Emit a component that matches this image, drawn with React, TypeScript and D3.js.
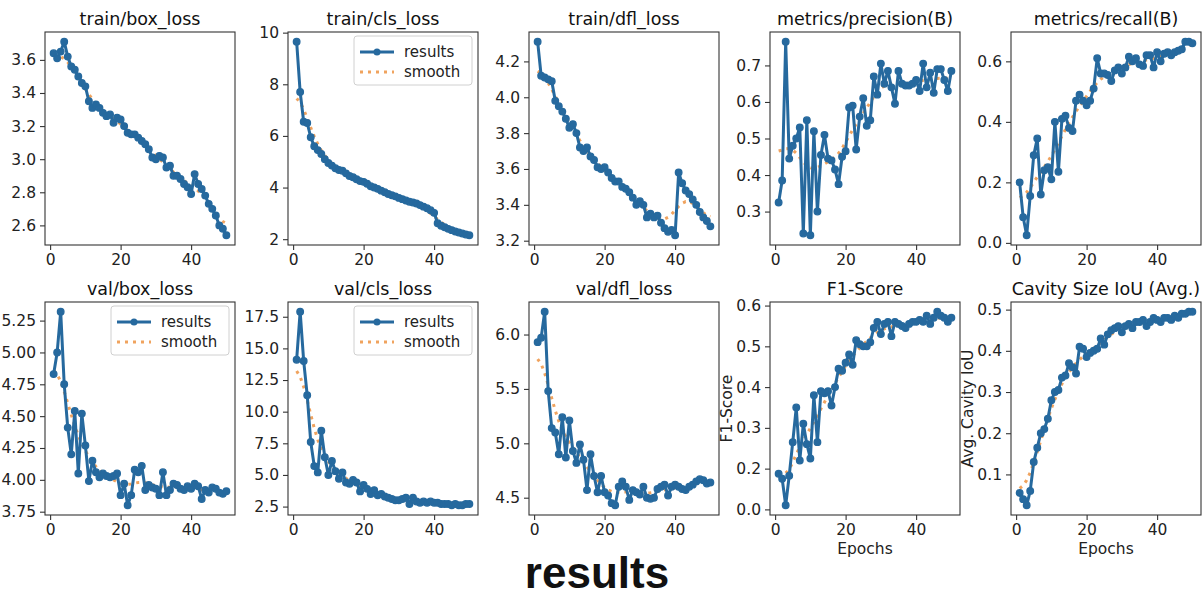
import { useEffect, useRef } from 'react';
import * as d3 from 'd3';

// x axis: training epochs
const epochs = d3.range(1, 51);

const trainBoxLoss = [
  3.64, 3.61, 3.65, 3.71, 3.62, 3.56, 3.54, 3.50, 3.46, 3.44,
  3.35, 3.31, 3.33, 3.31, 3.28, 3.26, 3.27, 3.22, 3.25, 3.24,
  3.20, 3.16, 3.15, 3.15, 3.13, 3.11, 3.09, 3.06, 3.01, 3.00,
  3.02, 3.01, 2.95, 2.96, 2.90, 2.90, 2.88, 2.85, 2.83, 2.79,
  2.91, 2.85, 2.82, 2.78, 2.73, 2.70, 2.66, 2.60, 2.58, 2.54,
];
const trainClsLoss = [
  9.65, 7.70, 6.55, 6.50, 5.95, 5.60, 5.45, 5.30, 5.10, 4.95,
  4.85, 4.75, 4.68, 4.65, 4.55, 4.45, 4.40, 4.32, 4.25, 4.22,
  4.15, 4.05, 4.00, 3.95, 3.88, 3.82, 3.75, 3.70, 3.66, 3.60,
  3.55, 3.50, 3.45, 3.42, 3.38, 3.32, 3.26, 3.20, 3.12, 3.02,
  2.62, 2.52, 2.46, 2.40, 2.35, 2.30, 2.26, 2.22, 2.18, 2.15,
];
const trainDflLoss = [
  4.31, 4.12, 4.11, 4.10, 4.09, 3.98, 3.95, 3.92, 3.88, 3.83,
  3.85, 3.80, 3.72, 3.70, 3.72, 3.67, 3.65, 3.61, 3.60, 3.61,
  3.58, 3.55, 3.53, 3.53, 3.50, 3.49, 3.47, 3.44, 3.40, 3.42,
  3.40, 3.33, 3.35, 3.33, 3.34, 3.30, 3.27, 3.25, 3.26, 3.23,
  3.58, 3.52, 3.48, 3.46, 3.43, 3.40, 3.36, 3.33, 3.31, 3.28,
];
const precisionB = [
  0.325, 0.385, 0.765, 0.445, 0.48, 0.50, 0.53, 0.24, 0.55, 0.235,
  0.52, 0.30, 0.455, 0.51, 0.445, 0.44, 0.415, 0.375, 0.45, 0.465,
  0.585, 0.59, 0.47, 0.56, 0.61, 0.535, 0.55, 0.67, 0.62, 0.705,
  0.65, 0.685, 0.64, 0.595, 0.685, 0.65, 0.645, 0.645, 0.65, 0.66,
  0.63, 0.705, 0.64, 0.68, 0.625, 0.69, 0.69, 0.66, 0.63, 0.685,
];
const recallB = [
  0.20, 0.085, 0.025, 0.155, 0.29, 0.345, 0.16, 0.24, 0.25, 0.21,
  0.40, 0.235, 0.41, 0.42, 0.38, 0.37, 0.47, 0.49, 0.47, 0.455,
  0.47, 0.51, 0.61, 0.56, 0.56, 0.555, 0.535, 0.57, 0.58, 0.56,
  0.58, 0.615, 0.60, 0.61, 0.59, 0.585, 0.62, 0.62, 0.58, 0.63,
  0.60, 0.625, 0.63, 0.62, 0.63, 0.635, 0.64, 0.665, 0.665, 0.66,
];
const valBoxLoss = [
  4.83, 5.00, 5.32, 4.75, 4.41, 4.20, 4.54, 4.05, 4.52, 4.27,
  3.99, 4.15, 4.06, 4.02, 4.05, 4.03, 4.02, 4.03, 4.05, 3.88,
  3.97, 3.80, 3.88, 4.08, 4.06, 4.11, 3.92, 3.96, 3.94, 3.93,
  3.88, 4.06, 3.88, 3.92, 3.97, 3.96, 3.93, 3.92, 3.95, 3.93,
  3.97, 3.95, 3.85, 3.92, 3.90, 3.94, 3.93, 3.90, 3.89, 3.91,
];
const valClsLoss = [
  14.1, 17.9, 14.0, 11.3, 7.6, 5.7, 5.2, 8.5, 6.4, 5.0,
  6.1, 5.3, 4.7, 5.2, 4.4, 4.3, 4.6, 4.4, 3.7, 4.2,
  3.9, 3.5, 3.8, 3.4, 3.5, 3.3, 3.2, 3.1, 3.0, 3.0,
  3.1, 3.2, 2.7, 3.2, 2.9, 2.8, 2.9, 2.8, 2.9, 2.8,
  2.8, 2.7, 2.7, 2.7, 2.6, 2.7, 2.6, 2.6, 2.7, 2.7,
];
const valDflLoss = [
  5.93, 5.97, 6.21, 5.48, 5.14, 5.10, 4.90, 5.24, 4.87, 5.21,
  4.93, 4.82, 4.99, 4.85, 4.57, 4.90, 4.70, 4.55, 4.70, 4.55,
  4.52, 4.45, 4.43, 4.60, 4.65, 4.60, 4.48, 4.57, 4.55, 4.53,
  4.60, 4.50, 4.49, 4.50, 4.58, 4.60, 4.62, 4.52, 4.60, 4.62,
  4.60, 4.58, 4.57, 4.60, 4.62, 4.65, 4.67, 4.66, 4.63, 4.64,
];
const f1Score = [
  0.175, 0.15, 0.02, 0.165, 0.265, 0.35, 0.22, 0.31, 0.26, 0.225,
  0.38, 0.265, 0.39, 0.385, 0.39, 0.355, 0.40, 0.445, 0.44, 0.46,
  0.48, 0.455, 0.515, 0.505, 0.50, 0.50, 0.51, 0.545, 0.56, 0.53,
  0.555, 0.56, 0.525, 0.56, 0.555, 0.55, 0.545, 0.555, 0.56, 0.56,
  0.565, 0.56, 0.575, 0.555, 0.57, 0.585, 0.575, 0.57, 0.56, 0.57,
];
const cavityIoU = [
  0.055, 0.04, 0.025, 0.06, 0.13, 0.165, 0.20, 0.21, 0.235, 0.28,
  0.30, 0.305, 0.335, 0.34, 0.37, 0.36, 0.345, 0.41, 0.405, 0.385,
  0.395, 0.40, 0.405, 0.43, 0.415, 0.44, 0.45, 0.455, 0.46, 0.445,
  0.46, 0.465, 0.455, 0.47, 0.47, 0.475, 0.46, 0.47, 0.48, 0.475,
  0.47, 0.48, 0.48, 0.475, 0.485, 0.48, 0.49, 0.49, 0.495, 0.495,
];

// tick values
const xTicks = [0, 20, 40];
const trainBoxTicks = [2.6, 2.8, 3.0, 3.2, 3.4, 3.6];
const trainClsTicks = [2, 4, 6, 8, 10];
const trainDflTicks = [3.2, 3.4, 3.6, 3.8, 4.0, 4.2];
const precisionTicks = [0.3, 0.4, 0.5, 0.6, 0.7];
const recallTicks = [0.0, 0.2, 0.4, 0.6];
const valBoxTicks = [3.75, 4.0, 4.25, 4.5, 4.75, 5.0, 5.25];
const valClsTicks = [2.5, 5.0, 7.5, 10.0, 12.5, 15.0, 17.5];
const valDflTicks = [4.5, 5.0, 5.5, 6.0];
// the F1 axis skips 0.1: 0.0 -> 0.2 takes one tick step
const f1Ticks = [0.0, 0.2, 0.3, 0.4, 0.5, 0.6];
const iouTicks = [0.1, 0.2, 0.3, 0.4, 0.5];

type Panel = {
  title: string;
  values: number[];
  ticks: number[];
  fmt: string;
  legend?: boolean;
  xLabel?: string;
  yLabel?: string;
  skipScale?: boolean;
};

const panels: Panel[] = [
  { title: 'train/box_loss', values: trainBoxLoss, ticks: trainBoxTicks, fmt: '.1f' },
  { title: 'train/cls_loss', values: trainClsLoss, ticks: trainClsTicks, fmt: 'd', legend: true },
  { title: 'train/dfl_loss', values: trainDflLoss, ticks: trainDflTicks, fmt: '.1f' },
  { title: 'metrics/precision(B)', values: precisionB, ticks: precisionTicks, fmt: '.1f' },
  { title: 'metrics/recall(B)', values: recallB, ticks: recallTicks, fmt: '.1f' },
  { title: 'val/box_loss', values: valBoxLoss, ticks: valBoxTicks, fmt: '.2f', legend: true },
  { title: 'val/cls_loss', values: valClsLoss, ticks: valClsTicks, fmt: '.1f', legend: true },
  { title: 'val/dfl_loss', values: valDflLoss, ticks: valDflTicks, fmt: '.1f' },
  { title: 'F1-Score', values: f1Score, ticks: f1Ticks, fmt: '.1f', xLabel: 'Epochs', yLabel: 'F1-Score', skipScale: true },
  { title: 'Cavity Size IoU (Avg.)', values: cavityIoU, ticks: iouTicks, fmt: '.1f', xLabel: 'Epochs', yLabel: 'Avg. Cavity IoU' },
];

const WIDTH = 1202;
const HEIGHT = 597;
const colX = [45, 288, 529, 770, 1011];
const rowY = [32, 302];
const PW = 190;
const PH = 213;

const BLUE = '#26699e';
const ORANGE = '#f0a35e';
const FONT = '"DejaVu Sans", sans-serif';

// same as scipy gaussian_filter1d(y, sigma=3) with reflect edges
const gaussianSmooth = (y: number[], sigma = 3) => {
  const radius = Math.round(4 * sigma);
  const w = d3.range(-radius, radius + 1).map(k => Math.exp(-0.5 * (k / sigma) ** 2));
  const wsum = d3.sum(w);
  const n = y.length;
  const reflect = (i: number) => {
    while (i < 0 || i >= n) {
      if (i < 0) i = -i - 1;
      if (i >= n) i = 2 * n - i - 1;
    }
    return i;
  };
  return y.map((_, i) => d3.sum(w, (wk, j) => wk * y[reflect(i + j - radius)]) / wsum);
};

const App = () => {
  const svgRef = useRef<SVGSVGElement>(null);

  useEffect(() => {
    const svg = d3.select(svgRef.current);
    svg.selectAll('*').remove();

    svg.append('rect').attr('width', WIDTH).attr('height', HEIGHT).attr('fill', '#fff');

    panels.forEach((p, i) => {
      const g = svg
        .append('g')
        .attr('transform', `translate(${colX[i % 5]},${rowY[Math.floor(i / 5)]})`);

      const smooth = gaussianSmooth(p.values);

      // x scale with matplotlib's 5% margins
      const [e0, e1] = d3.extent(epochs) as [number, number];
      const em = (e1 - e0) * 0.05;
      const x = d3.scaleLinear().domain([e0 - em, e1 + em]).range([0, PW]);

      const all = p.values.concat(smooth);
      let y: d3.ScaleLinear<number, number>;
      if (p.skipScale) {
        // piecewise: one tick step for 0.0..0.2, then 0.1 per step
        const toSteps = (v: number) => (v <= 0.2 ? v / 0.2 : 1 + (v - 0.2) / 0.1);
        const fromSteps = (s: number) => (s <= 1 ? s * 0.2 : 0.2 + (s - 1) * 0.1);
        const s0 = d3.min(all, toSteps) as number;
        const s1 = d3.max(all, toSteps) as number;
        const sm = (s1 - s0) * 0.05;
        const ys = d3.scaleLinear().domain([s0 - sm, s1 + sm]).range([PH, 0]);
        y = d3
          .scaleLinear()
          .domain([fromSteps(s0 - sm), 0.2, fromSteps(s1 + sm)])
          .range([PH, ys(1), 0]);
      } else {
        const [lo, hi] = d3.extent(all) as [number, number];
        const m = (hi - lo) * 0.05;
        y = d3.scaleLinear().domain([lo - m, hi + m]).range([PH, 0]);
      }

      // smooth (dotted) under the results line
      const line = d3
        .line<number>()
        .x((_, j) => x(epochs[j]))
        .y(d => y(d));

      g.append('path')
        .datum(smooth)
        .attr('fill', 'none')
        .attr('stroke', ORANGE)
        .attr('stroke-width', 3)
        .attr('stroke-dasharray', '3,5')
        .attr('d', line);

      g.append('path')
        .datum(p.values)
        .attr('fill', 'none')
        .attr('stroke', BLUE)
        .attr('stroke-width', 3)
        .attr('stroke-linejoin', 'round')
        .attr('d', line);

      g.selectAll('.dot')
        .data(p.values)
        .enter()
        .append('circle')
        .attr('cx', (_, j) => x(epochs[j]))
        .attr('cy', d => y(d))
        .attr('r', 3.3)
        .attr('fill', BLUE)
        .attr('stroke', BLUE)
        .attr('stroke-width', 1.3);

      // axes
      const xAxis = g
        .append('g')
        .attr('transform', `translate(0,${PH})`)
        .call(d3.axisBottom(x).tickValues(xTicks).tickSize(5).tickPadding(4).tickFormat(d3.format('d')));
      const yAxis = g
        .append('g')
        .call(d3.axisLeft(y).tickValues(p.ticks).tickSize(5).tickPadding(4).tickFormat(d3.format(p.fmt)));

      [xAxis, yAxis].forEach(ax => {
        ax.attr('font-size', 15.5).attr('font-family', FONT);
        ax.select('.domain').remove();
        ax.selectAll('.tick line').attr('stroke', '#333').attr('stroke-width', 1.1);
        ax.selectAll('.tick text').attr('fill', '#222');
      });

      // frame
      g.append('rect')
        .attr('width', PW)
        .attr('height', PH)
        .attr('fill', 'none')
        .attr('stroke', '#333')
        .attr('stroke-width', 1.1);

      g.append('text')
        .attr('x', PW / 2)
        .attr('y', -7)
        .attr('text-anchor', 'middle')
        .attr('font-family', FONT)
        .attr('font-size', 17.5)
        .attr('fill', '#111')
        .text(p.title);

      if (p.xLabel) {
        g.append('text')
          .attr('x', PW / 2)
          .attr('y', PH + 39)
          .attr('text-anchor', 'middle')
          .attr('font-family', FONT)
          .attr('font-size', 15.5)
          .attr('fill', '#222')
          .text(p.xLabel);
      }
      if (p.yLabel) {
        g.append('text')
          .attr('transform', `translate(-43,${PH / 2}) rotate(-90)`)
          .attr('dy', '0.35em')
          .attr('text-anchor', 'middle')
          .attr('font-family', FONT)
          .attr('font-size', 15.5)
          .attr('fill', '#222')
          .text(p.yLabel);
      }

      if (p.legend) {
        const lw = 118;
        const lg = g.append('g').attr('transform', `translate(${PW - lw - 6},4)`);
        lg.append('rect')
          .attr('width', lw)
          .attr('height', 49)
          .attr('rx', 3)
          .attr('fill', '#fff')
          .attr('fill-opacity', 0.8)
          .attr('stroke', '#d0d0d0');
        lg.append('line')
          .attr('x1', 6).attr('x2', 40).attr('y1', 16).attr('y2', 16)
          .attr('stroke', BLUE).attr('stroke-width', 3);
        lg.append('circle').attr('cx', 23).attr('cy', 16).attr('r', 3.5).attr('fill', BLUE);
        lg.append('line')
          .attr('x1', 6).attr('x2', 40).attr('y1', 36).attr('y2', 36)
          .attr('stroke', ORANGE).attr('stroke-width', 3).attr('stroke-dasharray', '3,5');
        ['results', 'smooth'].forEach((t, k) => {
          lg.append('text')
            .attr('x', 50)
            .attr('y', 16 + k * 20)
            .attr('dy', '0.35em')
            .attr('font-family', FONT)
            .attr('font-size', 15)
            .attr('fill', '#222')
            .text(t);
        });
      }
    });

    svg.append('text')
      .attr('x', 597)
      .attr('y', 588)
      .attr('text-anchor', 'middle')
      .attr('font-family', '"Liberation Sans", Arial, sans-serif')
      .attr('font-weight', 'bold')
      .attr('font-size', 44)
      .attr('fill', '#111')
      .text('results');
  }, []);

  return (
    <div style={{ position: 'absolute', left: 0, top: 0 }}>
      <svg ref={svgRef} width={WIDTH} height={HEIGHT} />
    </div>
  );
};

export default App;
